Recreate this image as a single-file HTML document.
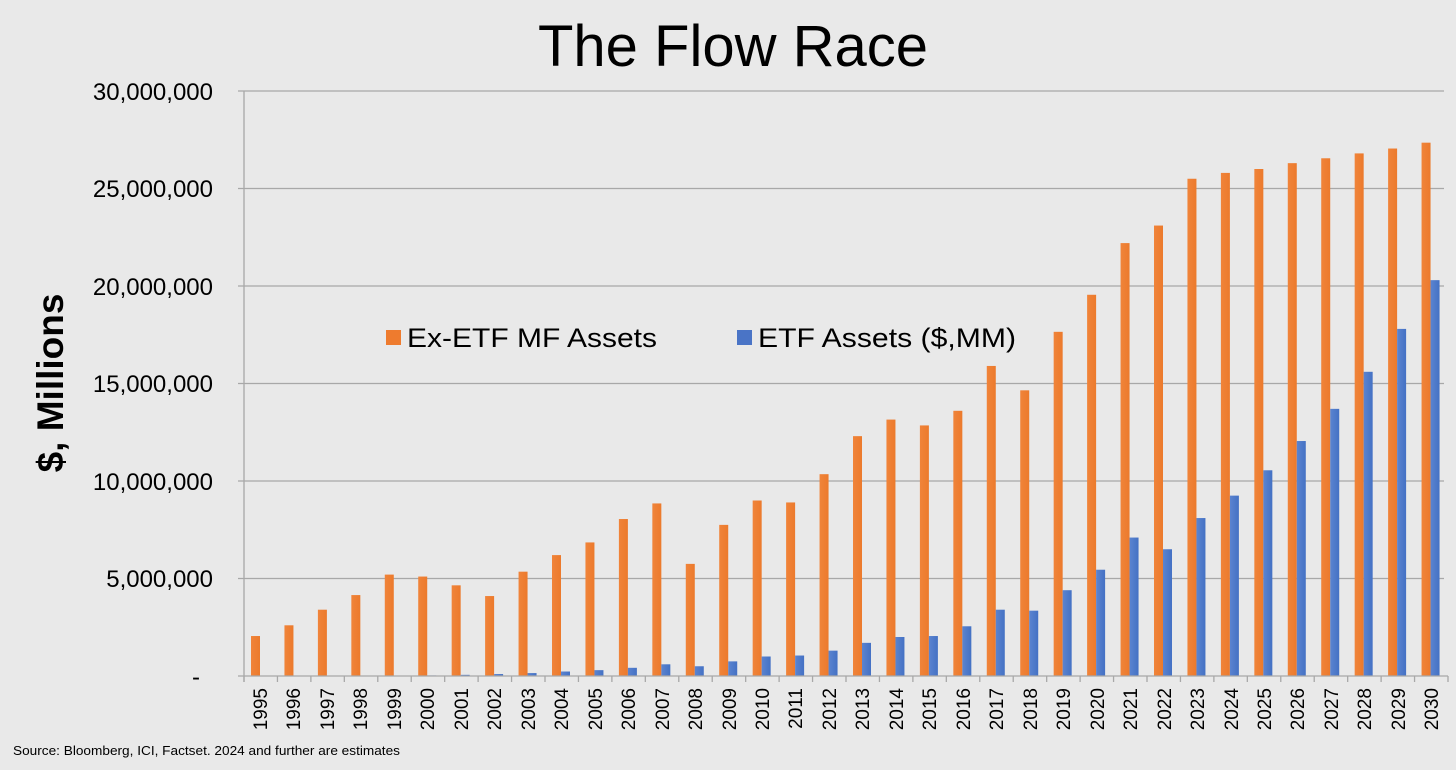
<!DOCTYPE html>
<html><head><meta charset="utf-8"><style>
html,body{margin:0;padding:0;background:#e9e9e9;}
svg{display:block;font-family:"Liberation Sans",sans-serif;}
</style></head><body>
<svg id="c" width="1456" height="770" viewBox="0 0 1456 770">
<rect width="1456" height="770" fill="#e9e9e9"/>
<defs>
<linearGradient id="og" x1="0" x2="1"><stop offset="0" stop-color="#f0843a"/><stop offset="1" stop-color="#ec7a2c"/></linearGradient>
<linearGradient id="bg" x1="0" x2="1"><stop offset="0" stop-color="#5b84d0"/><stop offset="1" stop-color="#4471c4"/></linearGradient>
</defs>
<text x="733" y="66" font-size="58" text-anchor="middle" fill="#000">The Flow Race</text>
<g stroke="#a8a8a8" stroke-width="1.3">
<line x1="238" x2="1444" y1="91" y2="91"/>
<line x1="238" x2="1444" y1="188.5" y2="188.5"/>
<line x1="238" x2="1444" y1="286" y2="286"/>
<line x1="238" x2="1444" y1="383.5" y2="383.5"/>
<line x1="238" x2="1444" y1="481" y2="481"/>
<line x1="238" x2="1444" y1="578.5" y2="578.5"/>
</g>
<g font-size="24" text-anchor="end" fill="#000">
<text x="213" y="100">30,000,000</text>
<text x="213" y="197">25,000,000</text>
<text x="213" y="295">20,000,000</text>
<text x="213" y="392">15,000,000</text>
<text x="213" y="490">10,000,000</text>
<text x="213" y="587">5,000,000</text>
<text x="200" y="685">-</text>
</g>
<text transform="translate(63,383) rotate(-90)" font-size="37" font-weight="bold" text-anchor="middle">$, Millions</text>
<g id="bars"></g>
<line x1="244" x2="244" y1="91" y2="682" stroke="#a8a8a8" stroke-width="1.3"/>
<line x1="238" x2="1448" y1="676" y2="676" stroke="#a8a8a8" stroke-width="1.3"/>
<g id="ticks" stroke="#a8a8a8" stroke-width="1.3"></g>
<g font-size="19" text-anchor="end" fill="#000">
<text transform="translate(267,688) rotate(-90)">1995</text>
<text transform="translate(300,688) rotate(-90)">1996</text>
<text transform="translate(334,688) rotate(-90)">1997</text>
<text transform="translate(367,688) rotate(-90)">1998</text>
<text transform="translate(401,688) rotate(-90)">1999</text>
<text transform="translate(434,688) rotate(-90)">2000</text>
<text transform="translate(468,688) rotate(-90)">2001</text>
<text transform="translate(501,688) rotate(-90)">2002</text>
<text transform="translate(535,688) rotate(-90)">2003</text>
<text transform="translate(568,688) rotate(-90)">2004</text>
<text transform="translate(602,688) rotate(-90)">2005</text>
<text transform="translate(635,688) rotate(-90)">2006</text>
<text transform="translate(669,688) rotate(-90)">2007</text>
<text transform="translate(702,688) rotate(-90)">2008</text>
<text transform="translate(736,688) rotate(-90)">2009</text>
<text transform="translate(769,688) rotate(-90)">2010</text>
<text transform="translate(802,688) rotate(-90)">2011</text>
<text transform="translate(836,688) rotate(-90)">2012</text>
<text transform="translate(869,688) rotate(-90)">2013</text>
<text transform="translate(903,688) rotate(-90)">2014</text>
<text transform="translate(936,688) rotate(-90)">2015</text>
<text transform="translate(970,688) rotate(-90)">2016</text>
<text transform="translate(1003,688) rotate(-90)">2017</text>
<text transform="translate(1037,688) rotate(-90)">2018</text>
<text transform="translate(1070,688) rotate(-90)">2019</text>
<text transform="translate(1104,688) rotate(-90)">2020</text>
<text transform="translate(1137,688) rotate(-90)">2021</text>
<text transform="translate(1171,688) rotate(-90)">2022</text>
<text transform="translate(1204,688) rotate(-90)">2023</text>
<text transform="translate(1238,688) rotate(-90)">2024</text>
<text transform="translate(1271,688) rotate(-90)">2025</text>
<text transform="translate(1304,688) rotate(-90)">2026</text>
<text transform="translate(1338,688) rotate(-90)">2027</text>
<text transform="translate(1371,688) rotate(-90)">2028</text>
<text transform="translate(1405,688) rotate(-90)">2029</text>
<text transform="translate(1438,688) rotate(-90)">2030</text>
</g>
<rect x="386" y="330" width="15" height="15" fill="#ee7b2e"/>
<text x="407" y="347" font-size="27" textLength="250" lengthAdjust="spacingAndGlyphs">Ex-ETF MF Assets</text>
<rect x="737" y="330" width="15" height="15" fill="#4a74c6"/>
<text x="758" y="347" font-size="27" textLength="258" lengthAdjust="spacingAndGlyphs">ETF Assets ($,MM)</text>
<text x="13" y="755" font-size="13" fill="#000" textLength="387" lengthAdjust="spacingAndGlyphs">Source: Bloomberg, ICI, Factset. 2024 and further are estimates</text>
</svg>
<script>
var o=[2.05,2.6,3.4,4.15,5.2,5.1,4.65,4.1,5.35,6.2,6.85,8.05,8.85,5.75,7.75,9.0,8.9,10.35,12.3,13.15,12.85,13.6,15.9,14.65,17.65,19.55,22.2,23.1,25.5,25.8,26.0,26.3,26.55,26.8,27.05,27.35];
var b=[0,0,0,0,0,0.03,0.06,0.1,0.15,0.23,0.3,0.42,0.6,0.5,0.75,1.0,1.05,1.3,1.7,2.0,2.05,2.55,3.4,3.35,4.4,5.45,7.1,6.5,8.1,9.25,10.55,12.05,13.7,15.6,17.8,20.3];
var ns="http://www.w3.org/2000/svg",g=document.getElementById("bars"),t=document.getElementById("ticks");
var w=(1448-244)/36,s=97.5/5;
for(var i=0;i<36;i++){var x=244+i*w;
function r(xx,v,f){if(v<=0)return;var e=document.createElementNS(ns,"rect");var h=v*s;e.setAttribute("x",xx);e.setAttribute("y",676-h);e.setAttribute("width",9);e.setAttribute("height",h);e.setAttribute("fill",f);g.appendChild(e);}
r(x+7,o[i],"url(#og)");r(x+16,b[i],"url(#bg)");
var l=document.createElementNS(ns,"line");l.setAttribute("x1",x);l.setAttribute("x2",x);l.setAttribute("y1",676);l.setAttribute("y2",682);t.appendChild(l);}
var l=document.createElementNS(ns,"line");l.setAttribute("x1",1448);l.setAttribute("x2",1448);l.setAttribute("y1",676);l.setAttribute("y2",682);t.appendChild(l);
</script>
</body></html>
